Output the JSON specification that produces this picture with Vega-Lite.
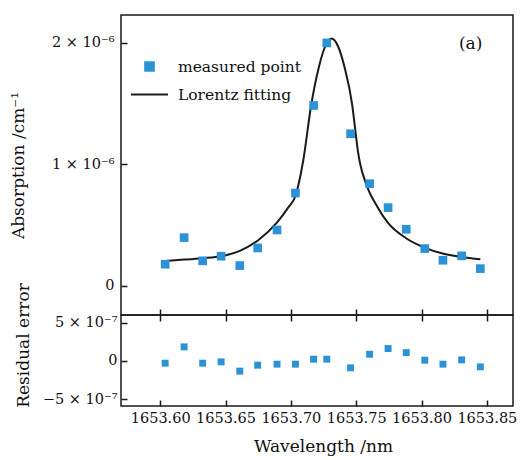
{
  "$schema": "https://vega.github.io/schema/vega-lite/v6.json",
  "padding": {"left": 8, "top": 14, "right": 4, "bottom": 2},
  "spacing": 0,
  "bounds": "flush",
  "config": {
    "font": "DejaVu Serif",
    "view": {"stroke": "#1a1a1a", "strokeWidth": 1.5},
    "concat": {"spacing": 0},
    "axis": {
      "domain": false, "grid": false,
      "tickColor": "#1a1a1a", "tickWidth": 1.5, "tickSize": -6,
      "labelFont": "DejaVu Serif", "labelFontSize": 14.5, "labelColor": "#111",
      "titleFont": "DejaVu Serif", "titleFontSize": 17, "titleFontWeight": "normal", "titleColor": "#111"
    }
  },
  "datasets": {
    "curve": [
      {"wavelength": 1653.6038, "absorption": 2.055e-7},
      {"wavelength": 1653.6183, "absorption": 2.16e-7},
      {"wavelength": 1653.6325, "absorption": 2.28e-7},
      {"wavelength": 1653.6466, "absorption": 2.44e-7},
      {"wavelength": 1653.6609, "absorption": 2.88e-7},
      {"wavelength": 1653.6750, "absorption": 3.76e-7},
      {"wavelength": 1653.6893, "absorption": 5.20e-7},
      {"wavelength": 1653.6979, "absorption": 6.44e-7},
      {"wavelength": 1653.7035, "absorption": 7.40e-7},
      {"wavelength": 1653.7094, "absorption": 1.028e-6},
      {"wavelength": 1653.7155, "absorption": 1.485e-6},
      {"wavelength": 1653.7213, "absorption": 1.795e-6},
      {"wavelength": 1653.7254, "absorption": 1.948e-6},
      {"wavelength": 1653.7310, "absorption": 2.036e-6},
      {"wavelength": 1653.7361, "absorption": 1.973e-6},
      {"wavelength": 1653.7412, "absorption": 1.795e-6},
      {"wavelength": 1653.7470, "absorption": 1.485e-6},
      {"wavelength": 1653.7494, "absorption": 1.274e-6},
      {"wavelength": 1653.7513, "absorption": 1.110e-6},
      {"wavelength": 1653.7529, "absorption": 1.011e-6},
      {"wavelength": 1653.7577, "absorption": 8.36e-7},
      {"wavelength": 1653.7666, "absorption": 6.44e-7},
      {"wavelength": 1653.7742, "absorption": 5.20e-7},
      {"wavelength": 1653.7882, "absorption": 3.92e-7},
      {"wavelength": 1653.8022, "absorption": 3.15e-7},
      {"wavelength": 1653.8162, "absorption": 2.66e-7},
      {"wavelength": 1653.8307, "absorption": 2.38e-7},
      {"wavelength": 1653.8450, "absorption": 2.19e-7}
    ],
    "points": [
      {"wavelength": 1653.6038, "absorption": 1.78e-7},
      {"wavelength": 1653.6183, "absorption": 3.97e-7},
      {"wavelength": 1653.6325, "absorption": 2.06e-7},
      {"wavelength": 1653.6466, "absorption": 2.44e-7},
      {"wavelength": 1653.6609, "absorption": 1.67e-7},
      {"wavelength": 1653.6746, "absorption": 3.12e-7},
      {"wavelength": 1653.6894, "absorption": 4.60e-7},
      {"wavelength": 1653.7035, "absorption": 7.64e-7},
      {"wavelength": 1653.7174, "absorption": 1.485e-6},
      {"wavelength": 1653.7275, "absorption": 2.00e-6},
      {"wavelength": 1653.7457, "absorption": 1.252e-6},
      {"wavelength": 1653.7603, "absorption": 8.41e-7},
      {"wavelength": 1653.7744, "absorption": 6.44e-7},
      {"wavelength": 1653.7883, "absorption": 4.66e-7},
      {"wavelength": 1653.8025, "absorption": 3.07e-7},
      {"wavelength": 1653.8164, "absorption": 2.11e-7},
      {"wavelength": 1653.8307, "absorption": 2.47e-7},
      {"wavelength": 1653.8450, "absorption": 1.42e-7}
    ],
    "residuals": [
      {"wavelength": 1653.6038, "residual": -3.0e-8},
      {"wavelength": 1653.6183, "residual": 1.83e-7},
      {"wavelength": 1653.6325, "residual": -3.0e-8},
      {"wavelength": 1653.6466, "residual": -1.3e-8},
      {"wavelength": 1653.6609, "residual": -1.34e-7},
      {"wavelength": 1653.6746, "residual": -5.6e-8},
      {"wavelength": 1653.6894, "residual": -4.3e-8},
      {"wavelength": 1653.7035, "residual": -4.3e-8},
      {"wavelength": 1653.7174, "residual": 2.2e-8},
      {"wavelength": 1653.7275, "residual": 2.2e-8},
      {"wavelength": 1653.7457, "residual": -9.1e-8},
      {"wavelength": 1653.7603, "residual": 8.7e-8},
      {"wavelength": 1653.7744, "residual": 1.61e-7},
      {"wavelength": 1653.7883, "residual": 1.08e-7},
      {"wavelength": 1653.8025, "residual": 9.0e-9},
      {"wavelength": 1653.8164, "residual": -4.3e-8},
      {"wavelength": 1653.8307, "residual": 1.3e-8},
      {"wavelength": 1653.8450, "residual": -7.8e-8}
    ],
    "panel": [{"label": "(a)"}]
  },
  "vconcat": [
    {
      "width": 392,
      "height": 300,
      "layer": [
        {
          "data": {"name": "curve"},
          "mark": {"type": "line", "interpolate": "monotone", "strokeWidth": 2},
          "encoding": {
            "x": {"field": "wavelength", "type": "quantitative",
              "scale": {"domain": [1653.57, 1653.87], "nice": false, "zero": false},
              "axis": {"orient": "bottom", "labels": false, "title": null,
                "values": [1653.6, 1653.65, 1653.7, 1653.75, 1653.8, 1653.85]}},
            "y": {"field": "absorption", "type": "quantitative",
              "scale": {"domain": [-2.4e-7, 2.23e-6], "nice": false, "zero": false},
              "axis": {"title": "Absorption /cm⁻¹", "values": [0, 1e-6, 2e-6],
                "labelExpr": "datum.value == 0 ? '0' : format(round(datum.value * 1e6), 'd') + ' × 10⁻⁶'",
                "labelPadding": 13, "titleX": -98, "titleBaseline": "alphabetic"}},
            "color": {"datum": "Lorentz fitting", "type": "nominal",
              "scale": {"domain": ["measured point", "Lorentz fitting"], "range": ["#2b92d6", "#1a1a1a"]},
              "legend": {"orient": "none", "legendX": 9, "legendY": 32, "title": null,
                "labelFont": "DejaVu Serif", "labelFontSize": 15.5, "labelColor": "#111",
                "symbolSize": 100, "padding": 0, "rowPadding": 0, "labelOffset": 9,
                "encode": {"symbols": {"update": {
                  "shape": {"signal": "datum.value === 'measured point' ? 'square' : 'M-1,0H1'"},
                  "size": {"signal": "datum.value === 'measured point' ? 75 : 1369"},
                  "fill": {"signal": "datum.value === 'measured point' ? '#2b92d6' : 'transparent'"},
                  "stroke": {"signal": "datum.value === 'measured point' ? 'transparent' : '#1a1a1a'"},
                  "strokeWidth": {"value": 2},
                  "opacity": {"value": 1}
                }}}}
            }
          }
        },
        {
          "data": {"name": "points"},
          "mark": {"type": "point", "shape": "square", "filled": true, "size": 75, "opacity": 1},
          "encoding": {
            "x": {"field": "wavelength", "type": "quantitative"},
            "y": {"field": "absorption", "type": "quantitative"},
            "color": {"datum": "measured point", "type": "nominal"}
          }
        },
        {
          "data": {"name": "panel"},
          "mark": {"type": "text", "font": "DejaVu Serif", "fontSize": 17, "fill": "#111", "align": "center", "baseline": "middle"},
          "encoding": {
            "x": {"datum": 1653.8376, "type": "quantitative"},
            "y": {"datum": 0.00000199, "type": "quantitative"},
            "text": {"field": "label", "type": "nominal"}
          }
        }
      ]
    },
    {
      "width": 392,
      "height": 91,
      "resolve": {"axis": {"x": "independent"}},
      "layer": [
        {
          "mark": {"type": "rule", "color": "#b0b0b0", "strokeWidth": 1},
          "encoding": {"y": {"datum": 0, "type": "quantitative"}}
        },
        {
          "data": {"name": "residuals"},
          "mark": {"type": "point", "shape": "square", "filled": true, "size": 48, "opacity": 1, "color": "#2b92d6"},
          "encoding": {
            "x": {"field": "wavelength", "type": "quantitative",
              "scale": {"domain": [1653.57, 1653.87], "nice": false, "zero": false},
              "axis": {"orient": "bottom", "title": "Wavelength /nm", "format": ".2f",
                "values": [1653.6, 1653.65, 1653.7, 1653.75, 1653.8, 1653.85],
                "labelPadding": 11, "titlePadding": 14, "titleX": 202}},
            "y": {"field": "residual", "type": "quantitative",
              "scale": {"domain": [-5.9e-7, 6.0e-7], "nice": false, "zero": false},
              "axis": {"title": "Residual error", "values": [-5e-7, 0, 5e-7],
                "labelExpr": "datum.value == 0 ? '0' : format(round(datum.value * 1e7), 'd') + ' × 10⁻⁷'",
                "labelPadding": 10, "titleX": -93, "titleY": 30, "titleBaseline": "alphabetic"}}
          }
        },
        {
          "data": {"name": "residuals"},
          "mark": {"type": "point", "opacity": 0},
          "encoding": {
            "x": {"field": "wavelength", "type": "quantitative",
              "axis": {"orient": "top", "labels": false, "title": null,
                "values": [1653.6, 1653.65, 1653.7, 1653.75, 1653.8, 1653.85]}},
            "y": {"field": "residual", "type": "quantitative"}
          }
        }
      ]
    }
  ]
}
